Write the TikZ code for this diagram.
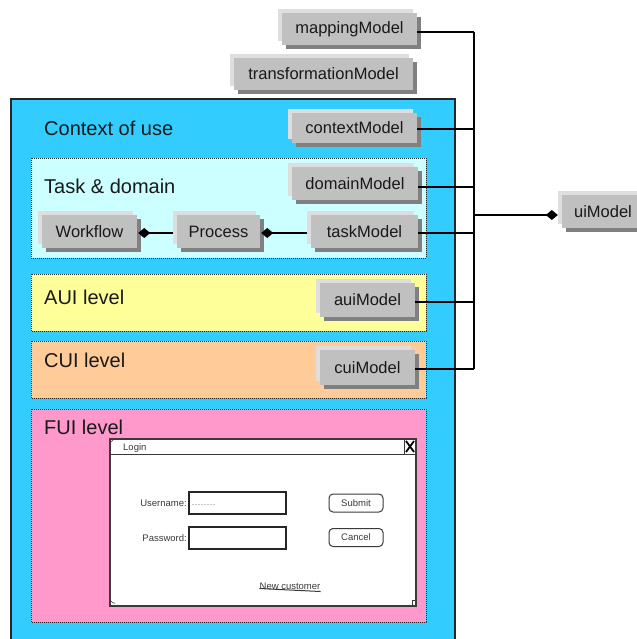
\documentclass[tikz,border=0pt]{standalone}
\usepackage{fontspec}
\setmainfont{Liberation Sans}
\usetikzlibrary{arrows.meta}
\definecolor{ctxblue}{HTML}{33CCFF}
\definecolor{taskcyan}{HTML}{CCFFFF}
\definecolor{auiyellow}{HTML}{FFFF99}
\definecolor{cuiorange}{HTML}{FFCC99}
\definecolor{fuipink}{HTML}{FF99CC}
\definecolor{btngray}{HTML}{C0C0C0}
\definecolor{btndark}{HTML}{808080}
\definecolor{btnlight}{HTML}{DEDEDE}
\definecolor{inkgray}{HTML}{3A3A3A}
\tikzset{
  levelbox/.style={draw=black!85, line width=0.8bp, dash pattern=on 1bp off 1bp},
  heading/.style={anchor=base west, inner sep=0, font=\fontsize{20bp}{24bp}\selectfont, text=black!90},
  btnbox/.style={fill=btngray, inner sep=0, font=\fontsize{16.5bp}{19bp}\selectfont, text=black!90},
  conn/.style={line width=1.8bp, black},
  diam/.style={-{Diamond[length=12bp,width=10bp]}},
  uitext/.style={inner sep=0, font=\fontsize{9.5bp}{11bp}\selectfont, text=inkgray},
  uifield/.style={draw=black!85, line width=1.2bp, fill=white, minimum width=97bp, minimum height=22bp, inner sep=0},
  uibtn/.style={draw=inkgray, line width=1bp, fill=white, rounded corners=4bp, minimum width=54bp, minimum height=18bp, inner sep=0, font=\fontsize{9.5bp}{11bp}\selectfont, text=inkgray}
}
\newcommand\modelbtn[6]{%
  \fill[btndark] (#2+4,#3+4) rectangle (#4+4,#5+4);
  \fill[btnlight] (#2-4,#3-4) rectangle (#4-4,#5-4);
  \node[btnbox, minimum width={(#4-#2)*1bp}, minimum height={(#5-#3)*1bp}] (#1) at ({(#2+#4)/2},{(#3+#5)/2}) {#6};}
\begin{document}
\begin{tikzpicture}[x=1bp, y=-1bp]
\path[use as bounding box, clip] (0,0) rectangle (637,639);
\fill[white] (0,0) rectangle (637,639);
% outer context box
\draw[fill=ctxblue, line width=1.5bp, draw=black!85] (11,99) rectangle (455,650);
% level boxes
\filldraw[levelbox, fill=taskcyan] (31,158) rectangle (426,258);
\filldraw[levelbox, fill=auiyellow] (31,274) rectangle (426,331);
\filldraw[levelbox, fill=cuiorange] (31,341) rectangle (426,398);
\filldraw[levelbox, fill=fuipink] (31,409) rectangle (426,622);
% headings
\node[heading] (hctx) at (44,136) {Context of use};
\node[heading] (htask) at (44,193) {Task \& domain};
\node[heading] (haui) at (44,304) {AUI level};
\node[heading] (hcui) at (44,367) {CUI level};
\node[heading] (hfui) at (44,434) {FUI level};
% model buttons
\modelbtn{mapping}{282}{13}{417}{45}{mappingModel}
\modelbtn{transf}{234}{58}{413}{90}{transformationModel}
\modelbtn{context}{292}{113}{417}{143}{contextModel}
\modelbtn{domain}{292}{167}{418}{200}{domainModel}
\modelbtn{task}{311}{215}{418}{248}{taskModel}
\modelbtn{process}{177}{215}{260}{248}{Process}
\modelbtn{workflow}{42}{215}{137}{248}{Workflow}
\modelbtn{aui}{320}{283}{415}{317}{auiModel}
\modelbtn{cui}{320}{350}{415}{385}{cuiModel}
\modelbtn{ui}{562}{195}{644}{228}{uiModel}
% bus
\coordinate (bus) at (474,0);
\draw[conn] ([yshift=-3bp]mapping.east) -- ([yshift=-3bp]mapping.east -| bus);
\draw[conn] ([yshift=-1bp]context.east) -- ([yshift=-1bp]context.east -| bus);
\draw[conn] ([yshift=-3.5bp]domain.east) -- ([yshift=-3.5bp]domain.east -| bus);
\draw[conn] ([yshift=-1.5bp]task.east) -- ([yshift=-1.5bp]task.east -| bus);
\draw[conn] ([yshift=-2bp]aui.east) -- ([yshift=-2bp]aui.east -| bus);
\draw[conn] ([yshift=-1.5bp]cui.east) -- ([yshift=-1.5bp]cui.east -| bus);
\draw[conn] ([yshift=-3bp]mapping.east -| bus) -- ([yshift=-1.5bp]cui.east -| bus);
\draw[conn, diam] ([yshift=-3.5bp]ui.west -| bus) -- ([xshift=-4bp,yshift=-3.5bp]ui.west);
% task internal connectors
\draw[conn, diam] ([xshift=-4bp,yshift=-1.5bp]task.west) -- ([xshift=1bp,yshift=-1.5bp]process.east);
\draw[conn, diam] ([xshift=-4bp,yshift=-1.5bp]process.west) -- ([xshift=1bp,yshift=-1.5bp]workflow.east);
% login window
\draw[inkgray, line width=1.3bp, fill=white] (110,439) rectangle (416,606);
\draw[inkgray, line width=1bp] (110,454) -- (404,454);
\draw[inkgray, line width=1bp] (404,439) rectangle (416,454);
\draw[black, line width=1.8bp] (406,441) -- (414,452);
\draw[black, line width=1.8bp] (414,441) -- (406,452);
\draw[inkgray, line width=0.6bp] (111,442) -- (114,439);
\draw[inkgray, line width=0.6bp] (111,601) -- (113,603) -- (115,603);
\draw[inkgray, line width=0.8bp] (412,606) -- (412,600) -- (416,600);
\node[uitext, anchor=west] (logint) at (123,448) {Login};
\node[uitext, anchor=east] (unlabel) at (187,503) {Username:};
\node[uitext, anchor=east] (pwlabel) at (187,538) {Password:};
\node[uifield] (unfield) at (237.5,503) {};
\node[uifield] (pwfield) at (237.5,538) {};
\draw[gray!45, line width=0.8bp, dash pattern=on 2bp off 1bp] (192,504) -- (216,504);
\node[uibtn] (submit) at (356,503) {Submit};
\node[uibtn] (cancel) at (356,537.5) {Cancel};
\node[uitext] (newcust) at (290,586.5) {New customer};
\draw[inkgray, line width=1bp] (newcust.south west) ++(0,-1.5) -- ([yshift=-1.5bp]newcust.south east);
\end{tikzpicture}
\end{document}
